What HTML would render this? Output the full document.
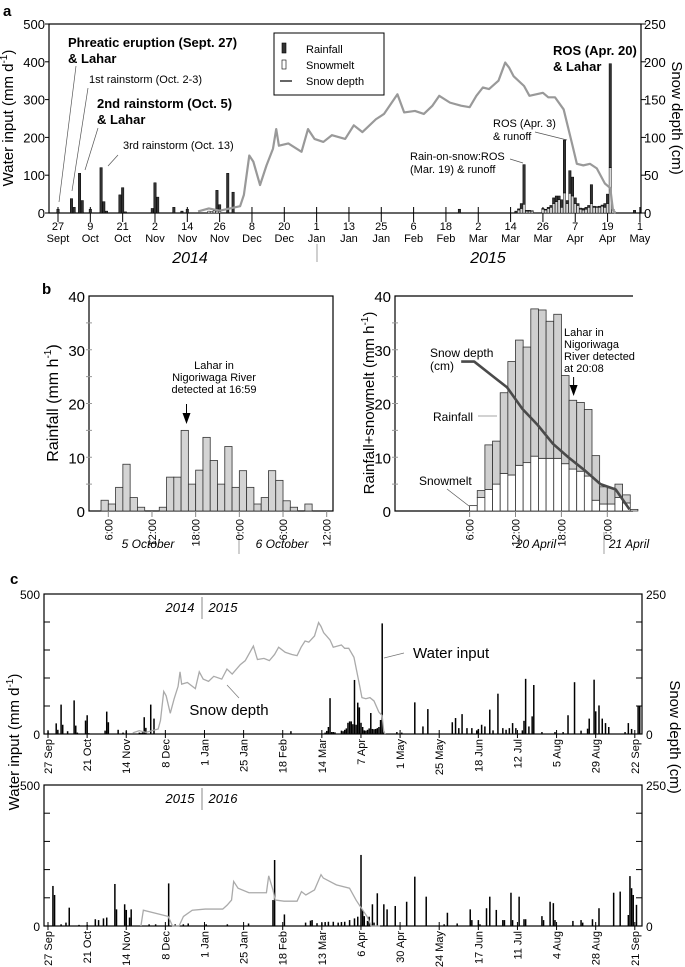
<!DOCTYPE html>
<html><head><meta charset="utf-8"><style>
html,body{margin:0;padding:0;background:#fff}
svg{display:block;font-family:"Liberation Sans",Arial,sans-serif}
</style></head><body>
<svg id="fig" width="685" height="967" viewBox="0 0 685 967">
<!-- Panel a static -->
<text x="3" y="16" font-size="15" font-weight="bold">a</text>
<rect x="49" y="24" width="592" height="189" fill="none" stroke="#000" stroke-width="1.2"/>
<text transform="translate(13,118) rotate(-90)" text-anchor="middle" font-size="15">Water input (mm d<tspan font-size="10" dy="-6">-1</tspan><tspan dy="6">)</tspan></text>
<text transform="translate(672,118) rotate(90)" text-anchor="middle" font-size="15">Snow depth (cm)</text>
<g font-size="11">
<rect x="274" y="33" width="110" height="62" fill="#fff" stroke="#000" stroke-width="1"/>
<rect x="282" y="43" width="4" height="10" fill="#333" stroke="#000" stroke-width="0.6"/>
<text x="306" y="53">Rainfall</text>
<rect x="282" y="60" width="4" height="9" fill="#fff" stroke="#000" stroke-width="0.6"/>
<text x="306" y="69">Snowmelt</text>
<line x1="280" y1="81" x2="292" y2="81" stroke="#333" stroke-width="1.5"/>
<text x="306" y="85">Snow depth</text>
</g>
<g font-size="12">
<text x="68" y="47" font-weight="bold" font-size="13">Phreatic eruption (Sept. 27)</text>
<text x="68" y="63" font-weight="bold" font-size="13">&amp; Lahar</text>
<text x="89" y="83" font-size="11">1st rainstorm (Oct. 2-3)</text>
<text x="97" y="108" font-weight="bold" font-size="13">2nd rainstorm (Oct. 5)</text>
<text x="97" y="124" font-weight="bold" font-size="13">&amp; Lahar</text>
<text x="123" y="149" font-size="11">3rd rainstorm (Oct. 13)</text>
<text x="553" y="55" font-weight="bold" font-size="13">ROS (Apr. 20)</text>
<text x="553" y="71" font-weight="bold" font-size="13">&amp; Lahar</text>
<text x="493" y="127" font-size="11">ROS (Apr. 3)</text>
<text x="493" y="140" font-size="11">&amp; runoff</text>
<text x="410" y="160" font-size="11">Rain-on-snow:ROS</text>
<text x="410" y="173" font-size="11">(Mar. 19) &amp; runoff</text>
<g stroke="#555" stroke-width="0.7">
<line x1="59" y1="202" x2="76" y2="66"/>
<line x1="72" y1="191" x2="88" y2="88"/>
<line x1="85" y1="170" x2="98" y2="128"/>
<line x1="108" y1="166" x2="118" y2="155"/>
<line x1="535" y1="132" x2="567" y2="140"/>
<line x1="510" y1="159" x2="523" y2="163"/>
</g>
</g>
<text x="190" y="263" text-anchor="middle" font-size="16" font-style="italic">2014</text>
<text x="488" y="263" text-anchor="middle" font-size="16" font-style="italic">2015</text>
<line x1="317" y1="244" x2="317" y2="262" stroke="#888" stroke-width="0.8"/>
<g id="pa"></g>

<!-- Panel b static -->
<text x="42" y="294" font-size="15" font-weight="bold">b</text>
<rect x="89" y="296" width="244" height="215" fill="none" stroke="#000" stroke-width="1.2"/>
<path d="M633,296 H395 V511 H633" fill="none" stroke="#000" stroke-width="1.2"/>
<text transform="translate(58,403) rotate(-90)" text-anchor="middle" font-size="16">Rainfall (mm h<tspan font-size="10" dy="-7">-1</tspan><tspan dy="7">)</tspan></text>
<text transform="translate(374,403) rotate(-90)" text-anchor="middle" font-size="15">Rainfall+snowmelt (mm h<tspan font-size="10" dy="-6">-1</tspan><tspan dy="6">)</tspan></text>
<g font-size="11">
<text x="214" y="369" text-anchor="middle">Lahar in</text>
<text x="214" y="381" text-anchor="middle">Nigoriwaga River</text>
<text x="214" y="393" text-anchor="middle">detected at 16:59</text>
<text x="564" y="336">Lahar in</text>
<text x="564" y="348">Nigoriwaga</text>
<text x="564" y="360">River detected</text>
<text x="564" y="372">at 20:08</text>
<text x="430" y="357" font-size="12">Snow depth</text>
<text x="430" y="370" font-size="12">(cm)</text>
<text x="433" y="421" font-size="12">Rainfall</text>
<text x="419" y="485" font-size="12">Snowmelt</text>
<line x1="478" y1="416" x2="497" y2="416" stroke="#888" stroke-width="0.8"/>
<line x1="447" y1="489" x2="469" y2="506" stroke="#555" stroke-width="0.7"/>
<line x1="186.5" y1="404" x2="186.5" y2="420" stroke="#000" stroke-width="1"/>
<polygon points="182.5,413 190.5,413 186.5,424" fill="#000"/>
<line x1="573.6" y1="377" x2="573.6" y2="392" stroke="#000" stroke-width="1"/>
<polygon points="569.6,385 577.6,385 573.6,396" fill="#000"/>
<text x="148" y="548" text-anchor="middle" font-style="italic" font-size="12">5 October</text>
<text x="282" y="548" text-anchor="middle" font-style="italic" font-size="12">6 October</text>
<line x1="239" y1="532" x2="239" y2="554" stroke="#888" stroke-width="0.8"/>
<text x="536" y="548" text-anchor="middle" font-style="italic" font-size="12">20 April</text>
<text x="629" y="548" text-anchor="middle" font-style="italic" font-size="12">21 April</text>
<line x1="604" y1="532" x2="604" y2="554" stroke="#888" stroke-width="0.8"/>
</g>
<g id="pb"></g>

<!-- Panel c static -->
<text x="10" y="584" font-size="15" font-weight="bold">c</text>
<rect x="44" y="594" width="598" height="140" fill="none" stroke="#000" stroke-width="1.2"/>
<rect x="44" y="785" width="598" height="141" fill="none" stroke="#000" stroke-width="1.2"/>
<text transform="translate(19,742) rotate(-90)" text-anchor="middle" font-size="15">Water input (mm d<tspan font-size="10" dy="-6">-1</tspan><tspan dy="6">)</tspan></text>
<text transform="translate(670,737) rotate(90)" text-anchor="middle" font-size="15">Snow depth (cm)</text>
<g font-size="12">
<text x="40" y="599" text-anchor="end">500</text><text x="40" y="739" text-anchor="end">0</text>
<text x="646" y="599">250</text><text x="646" y="739">0</text>
<text x="40" y="790" text-anchor="end">500</text><text x="40" y="931" text-anchor="end">0</text>
<text x="646" y="790">250</text><text x="646" y="931">0</text>
</g>
<g font-size="13">
<text x="180" y="612" text-anchor="middle" font-style="italic">2014</text>
<line x1="202" y1="597" x2="202" y2="619" stroke="#888"/>
<text x="223" y="612" text-anchor="middle" font-style="italic">2015</text>
<text x="180" y="803" text-anchor="middle" font-style="italic">2015</text>
<line x1="202" y1="788" x2="202" y2="810" stroke="#888"/>
<text x="223" y="803" text-anchor="middle" font-style="italic">2016</text>
<text x="413" y="658" font-size="15">Water input</text>
<line x1="384" y1="658" x2="404" y2="653" stroke="#777" stroke-width="0.7"/>
<text x="229" y="715" text-anchor="middle" font-size="15">Snow depth</text>
<line x1="227" y1="685" x2="239" y2="698" stroke="#777" stroke-width="0.7"/>
</g>
<g id="pc"></g>
</svg>
<script>
// ---------- Panel a data ----------
const aDays  = [0,5,6,8,9,12,16,17,18,23,24,25,35,36,37,43,46,48,56,57,58,59,60,63,65,149,170,171,172,173,174,175,176,180,181,182,183,184,185,186,187,188,189,190,191,192,193,194,195,196,197,198,199,200,201,202,203,204,205,206,214];
const aRain  = [10,38,15,105,33,10,120,30,5,48,67,3,12,80,42,15,5,10,0,0,0,55,18,105,55,10,5,3,13,105,2,2,1,2,2,3,5,15,15,10,20,140,8,60,50,15,5,3,4,5,5,50,3,2,3,3,10,25,275,0,7];
const aMelt  = [0,0,0,0,0,0,0,0,0,0,0,0,0,0,0,0,0,0,5,4,6,5,4,0,0,0,0,8,12,23,5,5,5,10,8,12,15,25,30,35,15,53,25,52,45,25,20,10,8,10,15,25,15,15,15,18,15,25,120,10,0];
const snowDays = [52,56,60,67.6,69,71,72.5,75,77.4,79.8,81,82,85.5,90.4,92.8,95.2,98.5,101.7,106.6,109.8,113,118,121,126,128.5,132.5,135.8,139,141.5,145.5,149.6,152.8,155.3,157.7,160,163.5,166,167.5,169.1,173,175,180,182,184.5,187.7,191,192.6,195,197.5,200,203,205,206,207];
const snowCm   = [2,6,3,9,24,76,68,37,63,85,111,89,92,81,111,98,94,103,98,116,107,124,131,157,133,135,131,142,155,146,142,140,155,166,164,175,199,192,181,168,155,159,153,153,137,89,65,63,65,59,39,33,4,0];
const aTickDays = [0,12,24,36,48,60,72,84,96,108,120,132,144,156,168,180,192,204,216];
const aTickDay  = ["27","9","21","2","14","26","8","20","1","13","25","6","18","2","14","26","7","19","1"];
const aTickMon  = ["Sept","Oct","Oct","Nov","Nov","Nov","Dec","Dec","Jan","Jan","Jan","Feb","Feb","Mar","Mar","Mar","Apr","Apr","May"];
const aYTicks = [0,100,200,300,400,500];
const aY2Ticks = [0,50,100,150,200,250];

// ---------- Panel b data ----------
const bLeftStartHour = 5;
const bLeftRain = [2,1.3,4.4,8.7,2.5,0.7,0,0,0.7,6.3,6.3,15,5,7.6,13.7,9.4,5,12,4.4,7.5,4.4,1.3,2.5,7.5,5.7,1.9,0.7,0,1.3,0,0];
const bRightStartHour = 6;
const bRightMelt  = [1,2.5,4,5,7,6.7,8.5,9,10.2,9.8,9.8,9.8,8.8,7.8,7.4,6.5,2,1.3,1.3,2.5,1.5,0.3];
const bRightRain  = [0,1.3,8.3,8,15,21.1,23.3,21.5,27.4,27.6,25.5,26.8,16.4,12.8,12.8,12.4,8.3,3.2,3,2.5,1.5,0];
const bSnowHours = [4.9,6.6,9.1,10.9,12.9,14.9,16.9,18.9,21.1,23.1,25.1,26.9];
const bSnowVals  = [27.8,27.8,25,23,19,16,12.5,10,7.5,5,4,0.3];
const bYTicks = [0,10,20,30,40];
const bLeftTickHours = [6,12,18,24,30,36];
const bLeftTickLabels = ["6:00","12:00","18:00","0:00","6:00","12:00"];
const bRightTickHours = [6,12,18,24];
const bRightTickLabels = ["6:00","12:00","18:00","0:00"];

// ---------- Panel c data ----------
const cTopExtraDays = [217,225,230,233,248,250,252,254,257,260,263,264,266,268,271,273,276,279,281,283,285,287,291,292,293,295,297,298,303,311,316,319,323,327,331,332,335,336,338,340,342,344,354,356,358,362,363];
const cTopExtraVals = [5,113,27,89,42,57,21,71,21,21,13,18,33,27,87,13,144,21,15,21,39,21,13,47,197,27,63,175,7,7,7,67,185,12,19,55,194,81,102,55,39,25,7,39,18,101,99];
const cBotDays = [3,4,8,11,13,19,24,29,31,34,36,41,42,47,48,50,51,62,66,74,78,83,86,97,110,123,138,139,145,158,161,162,165,168,170,172,175,178,180,182,185,188,190,192,193,194,196,197,199,200,202,206,208,213,220,225,232,243,245,251,259,260,264,265,269,271,275,279,280,284,285,289,292,293,303,304,308,310,311,322,327,328,334,338,347,351,356,357,358,359,361];
const cBotVals = [142,110,6,12,65,4,4,24,21,27,30,149,59,77,57,30,59,6,6,151,6,6,9,6,6,9,92,234,41,12,19,21,10,12,14,15,15,12,14,15,21,27,33,252,57,35,18,33,77,12,116,77,59,71,86,175,104,6,47,9,59,21,21,6,63,104,57,21,21,118,21,104,24,24,35,21,86,81,21,18,21,12,24,63,118,122,39,177,134,110,75];
const cBotSnowDays = [57,58.5,73.7,76.4,80.4,83.1,88.5,96.5,107.2,109.9,112.6,113.9,116.6,123.3,134,135.4,138,139.4,144.8,152.8,155.5,158.2,163.5,167.5,168.9,176.9,185,189,191.7,195.7,198.3,203.7];
const cBotSnowCm   = [0,28,17,0,0,17,28,30,30,37,46,79,67,59,59,89,64,46,44,44,61,55,64,91,85,73,67,46,34,17,0,0];
const cTopTickLabels = ["27 Sep","21 Oct","14 Nov","8 Dec","1 Jan","25 Jan","18 Feb","14 Mar","7 Apr","1 May","25 May","18 Jun","12 Jul","5 Aug","29 Aug","22 Sep"];
const cBotTickLabels = ["27 Sep","21 Oct","14 Nov","8 Dec","1 Jan","25 Jan","18 Feb","13 Mar","6 Apr","30 Apr","24 May","17 Jun","11 Jul","4 Aug","28 Aug","21 Sep"];
const cTickStepDays = 24;

const NS = "http://www.w3.org/2000/svg";
function mk(parent, tag, attrs){const e=document.createElementNS(NS,tag);for(const k in attrs)e.setAttribute(k,attrs[k]);parent.appendChild(e);return e;}

// ---------- Panel a ----------
(function(){
  const g=document.getElementById('pa');
  const xa=d=>58+d*2.694, ya=v=>213-v*0.378, ys=c=>ya(c*2);
  aYTicks.forEach(v=>{
    const t=mk(g,'line',{x1:45,x2:49,y1:ya(v),y2:ya(v),stroke:'#000'});
    
    
    const l=mk(g,'text',{x:45,y:ya(v)+5,'text-anchor':'end','font-size':13});
    
    
    l.textContent=v;
  });
  aY2Ticks.forEach(v=>{
    const t=mk(g,'line',{x1:641,x2:646,y1:ys(v),y2:ys(v),stroke:'#000'});
    
    
    const l=mk(g,'text',{x:644,y:ys(v)+5,'font-size':13});
    
    
    l.textContent=v;
  });
  aTickDays.forEach((d,i)=>{
    const t=mk(g,'line',{x1:xa(d),x2:xa(d),y1:207,y2:222,stroke:'#000'});
    
    
    const l=mk(g,'text',{x:xa(d),y:230,'text-anchor':'middle','font-size':11});
    
    
    l.textContent=aTickDay[i];
    const m=mk(g,'text',{x:xa(d),y:242,'text-anchor':'middle','font-size':11});
    
    
    m.textContent=aTickMon[i];
  });
  aDays.forEach((d,i)=>{
    const x=xa(d)-1.2, w=2.4;
    if(aMelt[i]>0){
      const r=mk(g,'rect',{x:x,y:ya(aMelt[i]),width:w,height:aMelt[i]*0.378,fill:'#d8d8d8',stroke:'#222','stroke-width':0.5});
      
      
    }
    if(aRain[i]>0){
      const r=mk(g,'rect',{x:x,y:ya(aMelt[i]+aRain[i]),width:w,height:aRain[i]*0.378,fill:'#333',stroke:'#000','stroke-width':0.5});
      
      
    }
  });
  const p=mk(g,'polyline',{points:snowDays.map((d,i)=>xa(d)+','+ys(snowCm[i])).join(' '),fill:'none',stroke:'#999','stroke-width':2.2,'stroke-linejoin':'round'});
  
  
})();

// ---------- Panel b ----------
(function(){
  const g=document.getElementById('pb');
  const yb=v=>511-v*5.375;
  const xl=h=>108.3+(h-6)*7.28, xr=h=>469.6+(h-6)*7.65;
  [89,395].forEach(ax=>{
    bYTicks.forEach(v=>{
      const l=mk(g,'text',{x:ax-4,y:yb(v)+6,'text-anchor':'end','font-size':15});
      
      
      l.textContent=v;
    });
    for(let v=5;v<40;v+=5){
      const t=mk(g,'line',{x1:ax-3,x2:ax+3,y1:yb(v),y2:yb(v),stroke:'#999'});
      
      
    }
  });
  bLeftRain.forEach((v,i)=>{
    const h=bLeftStartHour+i;
    const r=mk(g,'rect',{x:xl(h),y:yb(v),width:7.28,height:v*5.375,fill:'#d4d4d4',stroke:'#333','stroke-width':0.8});
    
    
  });
  bLeftTickHours.forEach((h,i)=>{
    const t=mk(g,'line',{x1:xl(h),x2:xl(h),y1:511,y2:517,stroke:'#888'});
    
    
    const l=mk(g,'text',{transform:`translate(${xl(h)+4},519) rotate(-90)`,'text-anchor':'end','font-size':11});
    
    
    l.textContent=bLeftTickLabels[i];
  });
  bRightMelt.forEach((m,i)=>{
    const h=bRightStartHour+i, rn=bRightRain[i];
    const r1=mk(g,'rect',{x:xr(h),y:yb(m),width:7.65,height:m*5.375,fill:'#fff',stroke:'#333','stroke-width':0.8});
    
    
    if(rn>0){
      const r2=mk(g,'rect',{x:xr(h),y:yb(m+rn),width:7.65,height:rn*5.375,fill:'#cfcfcf',stroke:'#333','stroke-width':0.8});
      
      
    }
  });
  bRightTickHours.forEach((h,i)=>{
    const t=mk(g,'line',{x1:xr(h),x2:xr(h),y1:511,y2:517,stroke:'#888'});
    
    
    const l=mk(g,'text',{transform:`translate(${xr(h)+4},519) rotate(-90)`,'text-anchor':'end','font-size':11});
    
    
    l.textContent=bRightTickLabels[i];
  });
  const p=mk(g,'polyline',{points:bSnowHours.map((h,i)=>xr(h)+','+yb(bSnowVals[i])).join(' '),fill:'none',stroke:'#4a4a4a','stroke-width':2.6,'stroke-linejoin':'round'});
  
  
})();

// ---------- Panel c ----------
(function(){
  const g=document.getElementById('pc');
  const xc=d=>48+d*1.63;
  const panels=[{zero:734,k:0.28,labels:cTopTickLabels,name:'c-top'},{zero:926,k:0.282,labels:cBotTickLabels,name:'c-bottom'}];
  panels.forEach(P=>{
    const y=v=>P.zero-v*P.k;
    for(let v=100;v<500;v+=100){
      const t=mk(g,'line',{x1:44,x2:50,y1:y(v),y2:y(v),stroke:'#000'});
      
      
      const t2=mk(g,'line',{x1:636,x2:642,y1:y(v),y2:y(v),stroke:'#000'});
      
      
    }
    P.labels.forEach((s,i)=>{
      const x=xc(i*cTickStepDays);
      const t=mk(g,'line',{x1:x,x2:x,y1:P.zero-4,y2:P.zero+4,stroke:'#000'});
      
      
      const l=mk(g,'text',{transform:`translate(${x+4},${P.zero+5}) rotate(-90)`,'text-anchor':'end','font-size':11});
      
      
      l.textContent=s;
    });
  });
  const yt=v=>734-v*0.28, yB=v=>926-v*0.282;
  const topDays=aDays.concat(cTopExtraDays);
  const topVals=aRain.map((r,i)=>r+aMelt[i]).concat(cTopExtraVals);
  topDays.forEach((d,i)=>{
    const r=mk(g,'rect',{x:xc(d)-0.7,y:yt(topVals[i]),width:1.5,height:topVals[i]*0.28,fill:'#000'});
    
    
  });
  const p1=mk(g,'polyline',{points:snowDays.map((d,i)=>xc(d)+','+yt(snowCm[i]*2)).join(' '),fill:'none',stroke:'#aaa','stroke-width':1.3});
  
  
  cBotDays.forEach((d,i)=>{
    const r=mk(g,'rect',{x:xc(d)-0.7,y:yB(cBotVals[i]),width:1.5,height:cBotVals[i]*0.282,fill:'#000'});
    
    
  });
  const p2=mk(g,'polyline',{points:cBotSnowDays.map((d,i)=>xc(d)+','+yB(cBotSnowCm[i]*2)).join(' '),fill:'none',stroke:'#aaa','stroke-width':1.3});
  
  
})();
</script>
</body></html>
